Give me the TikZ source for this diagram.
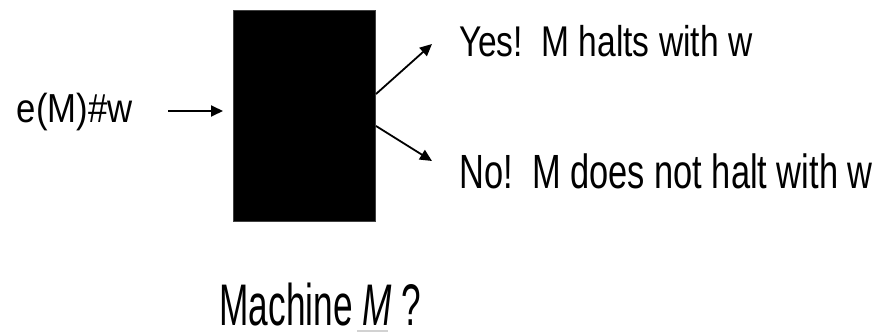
\documentclass[tikz,border=0pt]{standalone}
\usepackage{fontspec}
\setmainfont{Liberation Sans}
\usetikzlibrary{arrows.meta}
\tikzset{
  lbl/.style={anchor=base west, inner sep=0pt, outer sep=0pt, text=black},
  conn/.style={line width=1.8pt, -{Triangle[length=12pt,width=11pt]}},
  blackbox/.style={draw=black!75, line width=0.8pt, fill=black, minimum width=142pt, minimum height=211pt, inner sep=0pt, anchor=north west}
}
\begin{document}
\begin{tikzpicture}[x=1pt,y=-1pt]
\useasboundingbox (0,0) rectangle (878,332);
% machine box
\node[blackbox] (box) at (233,10) {};
% texts
\node[lbl] (input) at (16.8,122) {\fontsize{40.5}{48}\selectfont\scalebox{0.857}[1]{e(M)\#w}};
\node[lbl] (yes) at (459,56) {\fontsize{43}{52}\selectfont\scalebox{0.78}[1]{Yes!\ \ M halts with w}};
\node[lbl] (no) at (459.5,188) {\fontsize{48}{58}\selectfont\scalebox{0.717}[1]{No!\ \ M does not halt with w}};
\node[lbl] (mach) at (219.5,325) {\fontsize{58.7}{70}\selectfont\scalebox{0.60}[1]{Machine \textit{M} ?}};
% connector end points
\coordinate (inS) at (168,111);
\coordinate (inE) at (223,111);
\coordinate (yS) at (376,94);
\coordinate (yE) at (432,44);
\coordinate (nS) at (376,126);
\coordinate (nE) at (432,161);
\draw[conn] (inS) -- (inE);
\draw[conn] (yS) -- (yE);
\draw[conn] (nS) -- (nE);
% faint underline under M
\coordinate (uA) at (357,331);
\coordinate (uB) at (388,331);
\draw[gray!35, line width=2pt] (uA) -- (uB);
\end{tikzpicture}
\end{document}
